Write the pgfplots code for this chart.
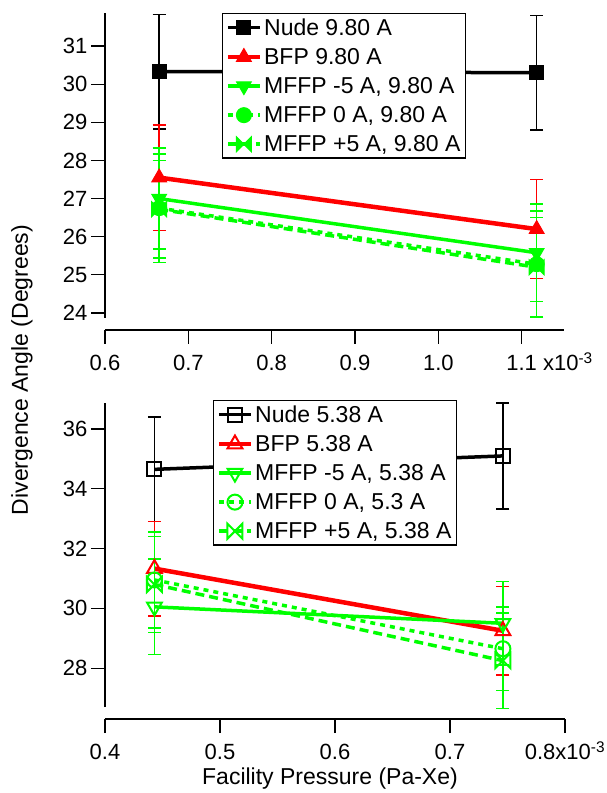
\documentclass[border=0pt]{standalone}
\usepackage{fontspec}
\setmainfont{Liberation Sans}
\usepackage{pgfplots}
\pgfplotsset{compat=1.18}

\pgfdeclareplotmark{bowtie*}{%
 \pgfpathmoveto{\pgfqpoint{-\pgfplotmarksize}{-\pgfplotmarksize}}%
 \pgfpathlineto{\pgfqpoint{\pgfplotmarksize}{\pgfplotmarksize}}%
 \pgfpathlineto{\pgfqpoint{\pgfplotmarksize}{-\pgfplotmarksize}}%
 \pgfpathlineto{\pgfqpoint{-\pgfplotmarksize}{\pgfplotmarksize}}%
 \pgfpathclose\pgfusepathqfillstroke}
\pgfdeclareplotmark{bowtie}{%
 \pgfpathmoveto{\pgfqpoint{-\pgfplotmarksize}{-\pgfplotmarksize}}%
 \pgfpathlineto{\pgfqpoint{\pgfplotmarksize}{\pgfplotmarksize}}%
 \pgfpathlineto{\pgfqpoint{\pgfplotmarksize}{-\pgfplotmarksize}}%
 \pgfpathlineto{\pgfqpoint{-\pgfplotmarksize}{\pgfplotmarksize}}%
 \pgfpathclose\pgfusepathqstroke}

\definecolor{fgreen}{RGB}{0,255,0}
\definecolor{fred}{RGB}{255,0,0}

\pgfplotsset{
 myaxis/.style={
  scale only axis, axis lines*=left,
  axis line style={line width=1.2pt,-},
  enlargelimits=false, clip=false,
  tick align=outside, major tick length=14pt,
  tick style={line width=1.2pt,black},
  tick label style={font=\fontsize{22}{26}\selectfont},
  xticklabel style={yshift=-8pt},
  axis x line shift=12pt,
  legend cell align=left,
  legend style={font=\fontsize{23}{27.5}\selectfont, draw=black, line width=1.2pt,
    inner sep=3pt, row sep=7.5pt},
  legend image code/.code={\draw[mark repeat=2,mark phase=2] plot coordinates {(0pt,0pt) (16pt,0pt) (32pt,0pt)};},
  error bars/y dir=both, error bars/y explicit,
  error bars/error bar style={solid, line width=1.5pt},
  error bars/error mark options={solid, rotate=90, mark size=6.5pt, line width=1.5pt},
 },
 nude/.style={black, solid, line width=3.5pt, mark options={solid, line width=1pt}},
 bfp/.style={fred, solid, line width=4.5pt, mark options={solid, line width=1pt}},
 gm5/.style={fgreen, solid, line width=3.5pt, mark options={solid, line width=1pt, rotate=180}},
 g0/.style={fgreen, line width=3.5pt, dash pattern=on 5pt off 5pt, mark options={solid, line width=1pt}},
 gp5/.style={fgreen, line width=3.5pt, dash pattern=on 9pt off 5pt, mark options={solid, line width=1pt}},
}

\begin{document}
\begin{tikzpicture}
\path[use as bounding box] (0,0) rectangle (607pt,793pt);

\begin{axis}[myaxis,
  at={(105pt,475pt)}, anchor=south west,
  width=459pt, height=305pt,
  xmin=0.6, xmax=1.1508, ymin=23.87, ymax=31.865,
  xtick={0.6,0.7,0.8,0.9,1.0,1.1},
  xticklabels={0.6,0.7,0.8,0.9,1.0,{1.1\rlap{ x10\smash{\textsuperscript{-3}}}}},
  ytick={24,25,26,27,28,29,30,31},
  yticklabels={24,25,26,27,28,29,30,31},
  legend style={at={(0.255,1)}, anchor=north west},
]
\addplot[nude, mark=square*, mark size=7pt] coordinates {(0.665,30.33) +- (0,1.5) (1.118,30.30) +- (0,1.5)};
\addlegendentry{Nude 9.80 A}
\addplot[bfp, mark=triangle*, mark size=8.5pt] coordinates {(0.665,27.55) +- (0,1.38) (1.118,26.2) +- (0,1.3)};
\addlegendentry{BFP 9.80 A}
\addplot[gm5, mark=triangle*, mark size=8.5pt] coordinates {(0.665,27.0) +- (0,1.32) (1.118,25.58) +- (0,1.28)};
\addlegendentry{MFFP -5 A, 9.80 A}
\addplot[g0, mark=*, mark size=7.5pt] coordinates {(0.665,26.75) +- (0,1.42) (1.118,25.28) +- (0,1.4)};
\addlegendentry{MFFP 0 A, 9.80 A}
\addplot[gp5, mark=bowtie*, mark size=7.5pt] coordinates {(0.665,26.72) +- (0,1.28) (1.118,25.2) +- (0,1.3)};
\addlegendentry{MFFP +5 A, 9.80 A}
\end{axis}

\begin{axis}[myaxis,
  at={(105pt,86pt)}, anchor=south west,
  width=460pt, height=304pt,
  xmin=0.4, xmax=0.8, ymin=26.7, ymax=36.87,
  xtick={0.4,0.5,0.6,0.7,0.8},
  xticklabels={0.4,0.5,0.6,0.7,{0.8x10\smash{\textsuperscript{-3}}}},
  xticklabel style={yshift=0pt},
  ytick={28,30,32,34,36},
  yticklabels={28,30,32,34,36},
  legend style={at={(0.235,1.01)}, anchor=north west},
]
\addplot[nude, mark=square, mark size=7pt, mark options={solid, line width=2pt}] coordinates {(0.443,34.65) +- (0,1.75) (0.746,35.1) +- (0,1.77)};
\addlegendentry{Nude 5.38 A}
\addplot[bfp, mark=triangle, mark size=8.5pt, mark options={solid, line width=2pt}] coordinates {(0.443,31.33) +- (0,1.58) (0.746,29.25) +- (0,1.48)};
\addlegendentry{BFP 5.38 A}
\addplot[gm5, mark=triangle, mark size=8.5pt, mark options={solid, line width=2pt, rotate=180}] coordinates {(0.443,30.05) +- (0,1.6) (0.746,29.5) +- (0,1.4)};
\addlegendentry{MFFP -5 A, 5.38 A}
\addplot[g0, mark=o, mark size=7.5pt, mark options={solid, line width=2pt}] coordinates {(0.443,30.95) +- (0,1.6) (0.746,28.65) +- (0,1.4)};
\addlegendentry{MFFP 0 A, 5.3 A}
\addplot[gp5, mark=bowtie, mark size=7.5pt, mark options={solid, line width=2pt}] coordinates {(0.443,30.8) +- (0,1.6) (0.746,28.25) +- (0,1.6)};
\addlegendentry{MFFP +5 A, 5.38 A}
\end{axis}

\node[rotate=90, font=\fontsize{23}{27}\selectfont] at (22pt,423pt) {Divergence Angle (Degrees)};
\node[font=\fontsize{23}{27}\selectfont] at (330pt,14pt) {Facility Pressure (Pa-Xe)};
\end{tikzpicture}
\end{document}
